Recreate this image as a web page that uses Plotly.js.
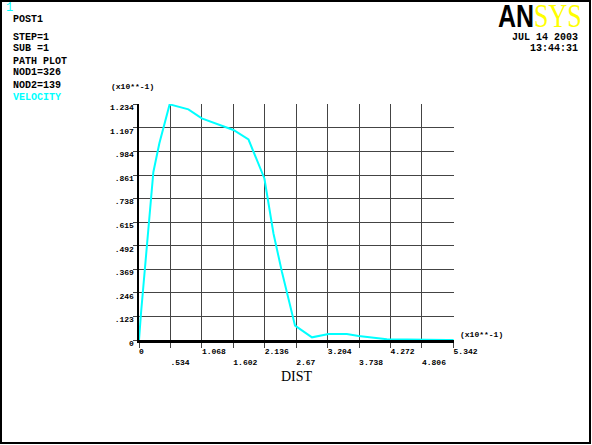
<!DOCTYPE html>
<html>
<head>
<meta charset="utf-8">
<script src="https://cdn.plot.ly/plotly-3.0.1.min.js"></script>
<style>html,body{margin:0;padding:0;background:#fff;}#chart{width:592px;height:445px;}</style>
</head>
<body>
<div id="chart"></div>
<script>
// ---- data (units x10**-1) ----
var dist = [0, 0.034, 0.244, 0.346, 0.52, 0.839, 1.066, 1.29, 1.604, 1.86, 2.13, 2.284, 2.427, 2.65, 2.938, 3.22, 3.53, 3.73, 4.21, 5.23, 5.342];
var velocity = [0, 0.14, 0.88, 1.03, 1.234, 1.208, 1.161, 1.134, 1.10, 1.05, 0.846, 0.558, 0.357, 0.075, 0.014, 0.031, 0.031, 0.021, 0.004, 0, 0];

var xTickVals = [0, 0.534, 1.068, 1.602, 2.136, 2.67, 3.204, 3.738, 4.272, 4.806, 5.342];
var xTickLabels = ["0", ".534", "1.068", "1.602", "2.136", "2.67", "3.204", "3.738", "4.272", "4.806", "5.342"];
var yTickVals = [0, 0.1234, 0.2468, 0.3702, 0.4936, 0.617, 0.7404, 0.8638, 0.9872, 1.1106, 1.234];
var yTickLabels = ["0", ".123", ".246", ".369", ".492", ".615", ".738", ".861", ".984", "1.107", "1.234"];

var headerLines = ["POST1", "STEP=1", "SUB =1", "PATH PLOT", "NOD1=326", "NOD2=139"];
var seriesName = "VELOCITY";
var dateLines = ["JUL 14 2003", "13:44:31"];
var xTitle = "DIST";
var scaleNote = "(x10**-1)";

// ---- layout helpers ----
var W = 592, H = 445;
var ML = 139, MR = 138, MT = 104, MB = 105;
var PW = W - ML - MR, PH = H - MT - MB;
function px(x) { return (x - ML) / PW; }
function py(y) { return (H - MB - y) / PH; }

function pad5(s) { while (s.length < 5) s += "\u00a0"; return s; }
var xTickText = xTickLabels.map(function (s, i) { return (i % 2 === 0 ? "" : "<br>") + pad5(s); });

var mono = "Liberation Mono, DejaVu Sans Mono, monospace";
var annotations = [];
function addText(text, x, y, opts) {
  opts = opts || {};
  annotations.push({
    text: text, xref: "paper", yref: "paper", x: px(x), y: py(y),
    xanchor: opts.xanchor || "left", yanchor: "middle", showarrow: false,
    borderpad: 0,
    font: { family: opts.family || mono, size: opts.size || 10, color: opts.color || "#000", weight: opts.weight || "bold" }
  });
}
addText("1", 5, 8, { color: "#00ffff", size: 12, weight: "normal" });
var hy = [19, 37, 49, 61, 73, 85];
headerLines.forEach(function (t, i) { addText(t, 12, hy[i]); });
addText(seriesName, 12, 97, { color: "#00ffff" });
addText(dateLines[0], 579, 37, { xanchor: "right" });
addText(dateLines[1], 579, 49, { xanchor: "right" });
var logoA = { text: "AN", size: 25, ascent: 0.905, cap: 0.716 };
var logoS = { text: "SYS", size: 26, ascent: 0.891, cap: 0.662 };
addText(logoA.text, 497, 16, { family: "Liberation Sans, Arial, sans-serif", size: logoA.size, weight: 900 });
addText(logoS.text, 533, 16, { family: "Liberation Serif, Times New Roman, serif", size: logoS.size, color: "#ffff00", weight: "normal" });
addText(scaleNote, 110, 86, { size: 8 });
addText(scaleNote, 459, 334, { size: 8 });

var trace = {
  x: dist, y: velocity, type: "scatter", mode: "lines",
  line: { color: "#00ffff", width: 2 }, hoverinfo: "skip"
};

var layout = {
  width: W, height: H,
  margin: { l: ML, r: MR, t: MT, b: MB, pad: 0 },
  paper_bgcolor: "#fff", plot_bgcolor: "#fff",
  showlegend: false,
  xaxis: {
    range: [0, 5.35], autorange: false, fixedrange: true,
    tickmode: "array", tickvals: xTickVals, ticktext: xTickText,
    ticks: "outside", ticklen: 5, tickcolor: "#444", tickwidth: 1,
    showgrid: true, gridcolor: "#444", gridwidth: 1,
    zeroline: false,
    showline: true, linecolor: "#000", linewidth: 2.5, layer: "below traces",
    ticklabelshift: 12, ticklabelstandoff: -3,
    tickfont: { family: mono, size: 8, color: "#000", weight: "bold" },
    title: { text: xTitle, font: { family: "Liberation Serif, Times New Roman, serif", size: 14, color: "#000" }, standoff: 6 }
  },
  yaxis: {
    range: [0, 1.236], autorange: false, fixedrange: true,
    tickmode: "array", tickvals: yTickVals, ticktext: yTickLabels,
    ticks: "outside", ticklen: 4, tickcolor: "#444", tickwidth: 1,
    showgrid: true, gridcolor: "#444", gridwidth: 1,
    zeroline: false,
    showline: true, linecolor: "#000", linewidth: 2.5, layer: "below traces",
    ticklabelshift: 3, ticklabelstandoff: -3,
    tickfont: { family: mono, size: 8, color: "#000", weight: "bold" }
  },
  annotations: annotations,
  shapes: [
    { type: "rect", xref: "paper", yref: "paper",
      x0: px(1), x1: px(590), y0: py(443), y1: py(1),
      line: { color: "#000", width: 2 }, fillcolor: "rgba(0,0,0,0)" }
  ]
};

Plotly.newPlot("chart", [trace], layout, { staticPlot: true, displayModeBar: false }).then(function () {
  // stretch the ANSYS logo letters vertically (baseline kept at y = 27 px)
  var targetBase = 27, capTop = 5;
  var texts = document.querySelectorAll("#chart .annotation-text");
  texts.forEach(function (t) {
    var s = t.textContent;
    var spec = s === logoA.text ? logoA : (s === logoS.text ? logoS : null);
    if (!spec) return;
    var b = t.getBBox();
    var r = t.getBoundingClientRect();
    var baseLocal = b.y + spec.ascent * spec.size;
    var baseAbs = r.top + spec.ascent * spec.size;
    var k = (targetBase - capTop) / (spec.cap * spec.size);
    var shift = targetBase - baseAbs;
    t.setAttribute("transform", "translate(0," + (baseLocal + shift) + ") scale(1," + k + ") translate(0," + (-baseLocal) + ")");
  });
});
</script>
</body>
</html>
